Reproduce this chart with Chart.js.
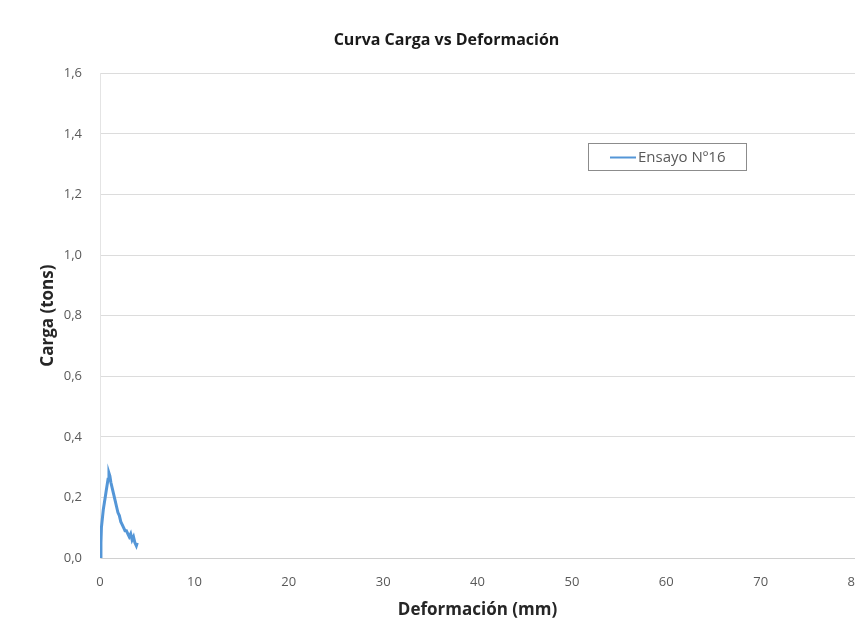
<!DOCTYPE html>
<html>
<head>
<meta charset="utf-8">
<script src="https://cdn.jsdelivr.net/npm/chart.js@4"></script>
<style>
  html, body { margin: 0; padding: 0; background: #fff; }
  #wrap { width: 855px; height: 635px; overflow: hidden; }
</style>
</head>
<body>
<div id="wrap"><canvas id="c" width="855" height="635"></canvas></div>
<script>
const chartTitle = "Curva Carga vs Deformación";
const xTitle = "Deformación (mm)";
const yTitle = "Carga (tons)";
const seriesLabel = "Ensayo Nº16";
const deformacion = [0.05, 0.10, 0.15, 0.25, 0.35, 0.45, 0.55, 0.65, 0.75, 0.85, 0.95, 1.05, 1.15, 1.30, 1.45, 1.60, 1.75, 1.90, 2.05, 2.20, 2.35, 2.50, 2.65, 2.80, 2.95, 3.10, 3.25, 3.40, 3.55, 3.70, 3.85, 3.95];
const carga       = [0.00, 0.05, 0.10, 0.13, 0.16, 0.18, 0.20, 0.22, 0.24, 0.26, 0.28, 0.27, 0.25, 0.23, 0.21, 0.19, 0.17, 0.15, 0.14, 0.12, 0.11, 0.10, 0.09, 0.09, 0.08, 0.07, 0.08, 0.06, 0.07, 0.05, 0.04, 0.05];
const xTicks = [0, 10, 20, 30, 40, 50, 60, 70, 80];
const yTicks = [0.0, 0.2, 0.4, 0.6, 0.8, 1.0, 1.2, 1.4, 1.6];

const points = deformacion.map((x, i) => ({ x: x, y: carga[i] }));

const legendBox = {
  id: 'legendBox',
  afterDraw(chart) {
    const ctx = chart.ctx;
    const ds = chart.data.datasets[0];
    const x = 588, y = 143, w = 158, h = 27;
    ctx.save();
    ctx.fillStyle = '#ffffff';
    ctx.fillRect(x, y, w, h);
    ctx.strokeStyle = '#8c8c8c';
    ctx.lineWidth = 1;
    ctx.strokeRect(x + 0.5, y + 0.5, w, h);
    ctx.strokeStyle = ds.borderColor;
    ctx.lineWidth = 2;
    ctx.beginPath();
    ctx.moveTo(x + 22, y + h / 2 + 1);
    ctx.lineTo(x + 48, y + h / 2 + 1);
    ctx.stroke();
    ctx.fillStyle = '#595959';
    ctx.font = '15px "Open Sans", sans-serif';
    ctx.textBaseline = 'middle';
    ctx.fillText(ds.label, x + 50, y + h / 2 + 1);
    ctx.restore();
  }
};

new Chart(document.getElementById('c'), {
  type: 'scatter',
  data: {
    datasets: [{
      label: seriesLabel,
      data: points,
      showLine: true,
      borderColor: 'rgb(84,150,215)',
      backgroundColor: 'rgb(84,150,215)',
      borderWidth: 3,
      pointRadius: 0,
      tension: 0
    }]
  },
  options: {
    responsive: false,
    animation: false,
    layout: { padding: { left: 38, right: 0, top: 0, bottom: 0 } },
    plugins: {
      legend: { display: false },
      tooltip: { enabled: false },
      title: {
        display: true,
        text: chartTitle,
        color: '#1a1a1a',
        font: { family: '"Open Sans", sans-serif', size: 16, weight: 'bold' },
        padding: { top: 31, bottom: 23 }
      }
    },
    scales: {
      x: {
        type: 'linear',
        min: xTicks[0],
        max: xTicks[xTicks.length - 1],
        afterBuildTicks(scale) { scale.ticks = xTicks.map(v => ({ value: v })); },
        afterFit(scale) { scale.height = 77; scale.paddingRight = 0; scale.paddingLeft = 0; },
        ticks: {
          color: '#595959',
          font: { family: '"Open Sans", sans-serif', size: 13 },
          padding: 16,
          maxRotation: 0
        },
        grid: { display: false, drawTicks: false },
        border: { display: true, color: '#d0d0d0' },
        title: {
          display: true,
          text: xTitle,
          color: '#262626',
          font: { family: '"Open Sans", sans-serif', size: 17, weight: 'bold' },
          padding: { top: 4, bottom: 15 }
        }
      },
      y: {
        type: 'linear',
        min: yTicks[0],
        max: yTicks[yTicks.length - 1],
        afterBuildTicks(scale) { scale.ticks = yTicks.map(v => ({ value: v })); },
        afterFit(scale) { scale.width = 62; },
        ticks: {
          color: '#595959',
          font: { family: '"Open Sans", sans-serif', size: 13 },
          padding: 18,
          callback: v => Number(v).toFixed(1).replace('.', ',')
        },
        grid: { color: '#dcdcdc', drawTicks: false },
        border: { display: true, color: '#e4e4e4' },
        title: {
          display: true,
          text: yTitle,
          color: '#262626',
          font: { family: '"Open Sans", sans-serif', size: 17, weight: 'bold' },
          padding: { top: 0, bottom: 0 }
        }
      }
    }
  },
  plugins: [legendBox]
});
</script>
</body>
</html>
